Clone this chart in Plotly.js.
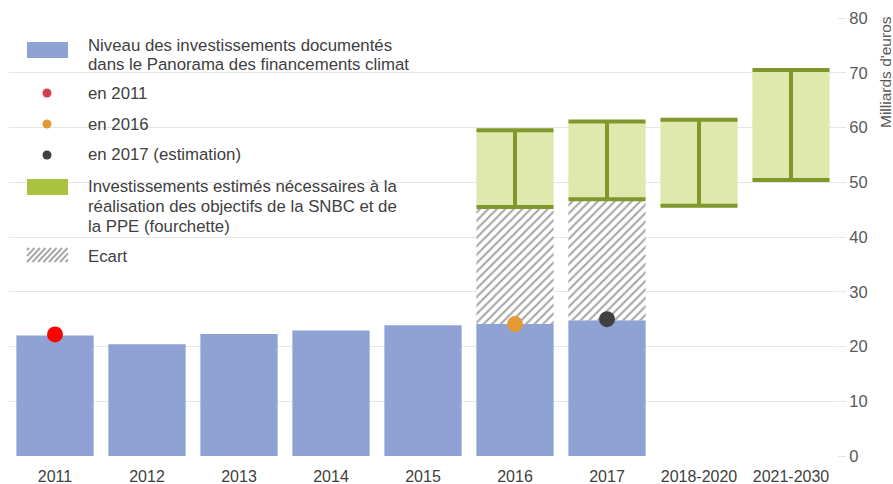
<!DOCTYPE html>
<html><head><meta charset="utf-8">
<script src="https://cdn.plot.ly/plotly-3.0.1.min.js"></script>
<style>html,body{margin:0;padding:0;background:#fff}#chart{width:893px;height:484px}</style>
</head><body><div id="chart"></div>
<script>
const categories = ['2011','2012','2013','2014','2015','2016','2017','2018-2020','2021-2030'];
const documented = [22.0, 20.4, 22.3, 22.9, 23.9, 24.1, 24.8, null, null];
const needLow  = [null, null, null, null, null, 45.5, 46.9, 45.7, 50.4];
const needHigh = [null, null, null, null, null, 59.5, 61.1, 61.4, 70.5];
const pointCats = ['2011', '2016', '2017'];
const pointVals = [22.2, 24.1, 25.0];
const pointColors = ['#ff0000', '#e39a35', '#404040'];
const legendLabels = [
  ['Niveau des investissements documentés', 'dans le Panorama des financements climat'],
  ['en 2011'], ['en 2016'], ['en 2017 (estimation)'],
  ['Investissements estimés nécessaires à la', 'réalisation des objectifs de la SNBC et de', 'la PPE (fourchette)'],
  ['Ecart']
];
const legendDotColors = ['#d0404f', '#e39a35', '#404040'];
const yTitle = "Milliards d'euros";

// derived
const gapBase = categories.map((c,i)=> (needLow[i]!=null && documented[i]!=null) ? documented[i] : null);
const gapVal = categories.map((c,i)=> (needLow[i]!=null && documented[i]!=null) ? needLow[i]-documented[i] : null);
const needSpan = categories.map((c,i)=> needLow[i]!=null ? needHigh[i]-needLow[i] : null);
const needMid = categories.map((c,i)=> needLow[i]!=null ? (needHigh[i]+needLow[i])/2 : null);
const needHalf = categories.map((c,i)=> needLow[i]!=null ? (needHigh[i]-needLow[i])/2 : null);

const W=893,H=484, M={l:9,r:56,t:18,b:28};
const pw=W-M.l-M.r, ph=H-M.t-M.b;
const px=x=>(x-M.l)/pw, py=y=>(H-M.b-y)/ph;

const BLUE='#8ea2d4', GREEN_FILL='#dfe8ad', GREEN_LINE='#7f972b', GREEN_LEG='#a9c23f';

const traces = [
  {type:'bar', x:categories, y:documented, marker:{color:BLUE}, showlegend:false, hoverinfo:'skip'},
  {type:'bar', x:categories, y:gapVal, base:gapBase,
   marker:{color:'white', pattern:{shape:'/', fgcolor:'#a6a6a6', bgcolor:'white', size:6, solidity:0.35}},
   showlegend:false, hoverinfo:'skip'},
  {type:'bar', x:categories, y:needSpan, base:needLow, marker:{color:GREEN_FILL}, showlegend:false, hoverinfo:'skip'},
  {type:'scatter', mode:'markers', x:categories, y:needMid, marker:{size:1, color:'rgba(0,0,0,0)'},
   error_y:{type:'data', array:needHalf, symmetric:true, color:GREEN_LINE, thickness:4, width:38.5},
   showlegend:false, hoverinfo:'skip'},
  {type:'scatter', mode:'markers', x:pointCats, y:pointVals, marker:{size:16, color:pointColors}, showlegend:false, hoverinfo:'skip'}
];

const shapes = [];
const annotations = [];
const FAM='"Liberation Sans", Arial, sans-serif';
const font = {family:FAM, size:16.8, color:'#404040'};
// legend swatches
shapes.push({type:'rect', xref:'paper', yref:'paper', x0:px(27), x1:px(68), y0:py(58), y1:py(42), fillcolor:BLUE, line:{width:0}});
const dotY=[93,124,155];
dotY.forEach((y,i)=>shapes.push({type:'circle', xref:'paper', yref:'paper', x0:px(42.5), x1:px(51.5), y0:py(y+4.5), y1:py(y-4.5), fillcolor:legendDotColors[i], line:{width:0}}));
shapes.push({type:'rect', xref:'paper', yref:'paper', x0:px(27), x1:px(68), y0:py(195), y1:py(179), fillcolor:GREEN_LEG, line:{width:0}});
// hatch swatch
let path='';
for(let i=-2;i<10;i++){
  let xa=27+i*5.5, ya=262, xb=xa+13, yb=248;
  let t0=0,t1=1;
  if(xa<27){t0=(27-xa)/(xb-xa);} if(xb>68){t1=(68-xa)/(xb-xa);}
  if(t0>=t1) continue;
  const x0=xa+(xb-xa)*t0, y0=ya+(yb-ya)*t0, x1=xa+(xb-xa)*t1, y1=ya+(yb-ya)*t1;
  path+=`M${px(x0)},${py(y0)} L${px(x1)},${py(y1)} `;
}
shapes.push({type:'path', xref:'paper', yref:'paper', path:path, line:{color:'#a6a6a6', width:2}});

const lineY=[[45,64],[93],[124],[155],[186,207,227],[256]];
legendLabels.forEach((lines,i)=>lines.forEach((t,j)=>annotations.push({xref:'paper', yref:'paper', x:px(86), y:py(lineY[i][j]), xanchor:'left', yanchor:'middle', align:'left', showarrow:false, text:t, font:font})));
annotations.push({xref:'paper', yref:'paper', x:px(885), y:py(72), xanchor:'center', yanchor:'middle', textangle:-90, showarrow:false, text:yTitle, font:{family:FAM, size:15.5, color:'#595959'}});

const layout = {
  width:W, height:H, margin:M, paper_bgcolor:'white', plot_bgcolor:'white',
  barmode:'overlay', bargap:0.16, showlegend:false,
  font:font,
  xaxis:{type:'category', range:[-0.5, categories.length-0.5], automargin:false, showgrid:false, zeroline:false, showline:false, ticks:'outside', ticklen:6, tickcolor:'rgba(0,0,0,0)', tickfont:{family:FAM, size:16, color:'#404040'}},
  yaxis:{side:'right', automargin:false, range:[0,80], dtick:10, showgrid:true, gridcolor:'#e6e6e6', gridwidth:1, zeroline:false, showline:false,
         ticks:'outside', ticklen:8, tickcolor:'#e6e6e6', tickfont:{family:FAM, size:16.5, color:'#595959'}},
  shapes:shapes, annotations:annotations
};
Plotly.newPlot('chart', traces, layout, {displayModeBar:false, staticPlot:true});
</script></body></html>
